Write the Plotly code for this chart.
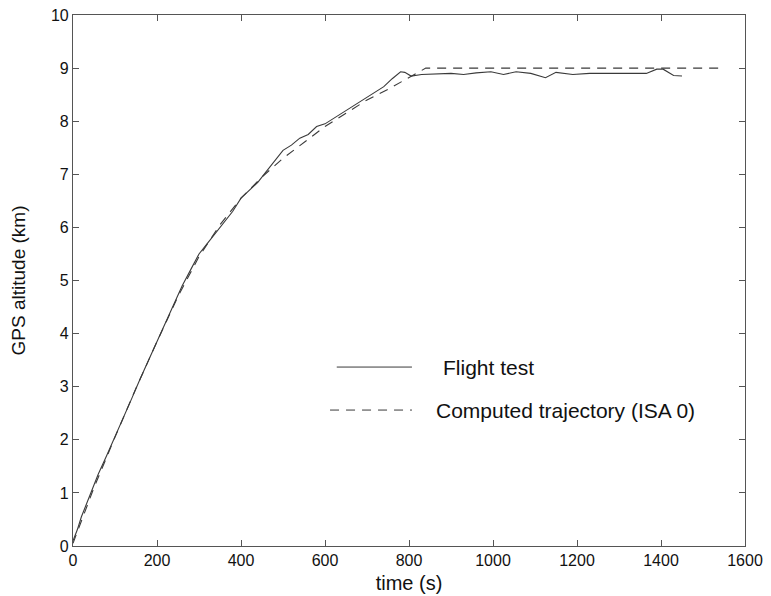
import plotly.graph_objects as go

# flight test record (time in s, GPS altitude in km)
flight_t = [0, 10, 20, 40, 60, 80, 100, 120, 140, 160, 180, 200, 220, 240, 260, 280,
            300, 320, 340, 360, 380, 400, 420, 440, 460, 480, 500, 520, 540, 560, 580,
            600, 620, 640, 660, 680, 700, 720, 740, 760, 780, 790, 805, 830, 860, 900,
            930, 960, 995, 1025, 1055, 1090, 1125, 1150, 1190, 1230, 1300, 1365, 1390,
            1405, 1430, 1450]
flight_alt = [0.1, 0.3, 0.55, 0.95, 1.35, 1.7, 2.05, 2.4, 2.78, 3.15, 3.5, 3.85, 4.2, 4.55,
              4.9, 5.2, 5.5, 5.7, 5.9, 6.1, 6.3, 6.55, 6.7, 6.85, 7.05, 7.25, 7.45, 7.55,
              7.68, 7.75, 7.9, 7.95, 8.05, 8.15, 8.25, 8.35, 8.45, 8.55, 8.65, 8.8, 8.93,
              8.92, 8.85, 8.88, 8.89, 8.90, 8.88, 8.91, 8.93, 8.88, 8.93, 8.90, 8.82, 8.92,
              8.88, 8.90, 8.90, 8.90, 8.98, 8.98, 8.86, 8.85]

# computed trajectory (ISA 0)
comp_t = [0, 50, 100, 150, 200, 250, 300, 350, 400, 450, 500, 550, 600, 650, 700, 750,
          800, 840, 1540]
comp_alt = [0.05, 1.1, 2.05, 2.97, 3.85, 4.7, 5.45, 6.05, 6.55, 6.95, 7.3, 7.6, 7.9, 8.15,
            8.4, 8.6, 8.82, 9.0, 9.0]

x_ticks = [0, 200, 400, 600, 800, 1000, 1200, 1400, 1600]
y_ticks = list(range(0, 11))

line_col = '#3a3a3a'
fnt = 'Liberation Sans, Arial, sans-serif'
dash_style = '9px,7px'

fig = go.Figure()
fig.add_trace(go.Scatter(x=flight_t, y=flight_alt, mode='lines', name='Flight test',
                         line=dict(color=line_col, width=1.1)))
fig.add_trace(go.Scatter(x=comp_t, y=comp_alt, mode='lines', name='Computed trajectory (ISA 0)',
                         line=dict(color=line_col, width=1.1, dash=dash_style)))

# hand-drawn legend, as in the original figure
legend_items = [('Flight test', 'solid', 628, 807, 876, 3.37),
                ('Computed trajectory (ISA 0)', dash_style, 612, 807, 860, 2.56)]
for label, dash, x0, x1, xt, yy in legend_items:
    fig.add_shape(type='line', x0=x0, x1=x1, y0=yy, y1=yy, xref='x', yref='y',
                  line=dict(color=line_col, width=1, dash=dash))
    fig.add_annotation(x=xt, y=yy, text=label, showarrow=False, xanchor='left',
                       font=dict(size=21, color='#111', family=fnt))

axis_common = dict(showline=True, linecolor='#555', linewidth=1.2, mirror='ticks',
                   ticks='inside', ticklen=6, tickcolor='#555', showgrid=False,
                   zeroline=False, automargin=False, ticklabeloverflow='allow',
                   tickfont=dict(size=16, color='#111', family=fnt))

fig.update_xaxes(range=[0, 1600], tickvals=x_ticks, title_text='time (s)',
                 title_font=dict(size=20, color='#111', family=fnt),
                 title_standoff=7, **axis_common)
fig.update_yaxes(range=[0, 10], tickvals=y_ticks, title_text='GPS altitude (km)',
                 title_font=dict(size=19, color='#111', family=fnt),
                 title_standoff=27, **axis_common)

# page body adds ~8px offset, so the figure is a bit smaller than the window
fig.update_layout(width=763, height=588, showlegend=False,
                  plot_bgcolor='white', paper_bgcolor='white',
                  margin=dict(l=65, r=26, t=7, b=50))

fig.write_html("out.html")
